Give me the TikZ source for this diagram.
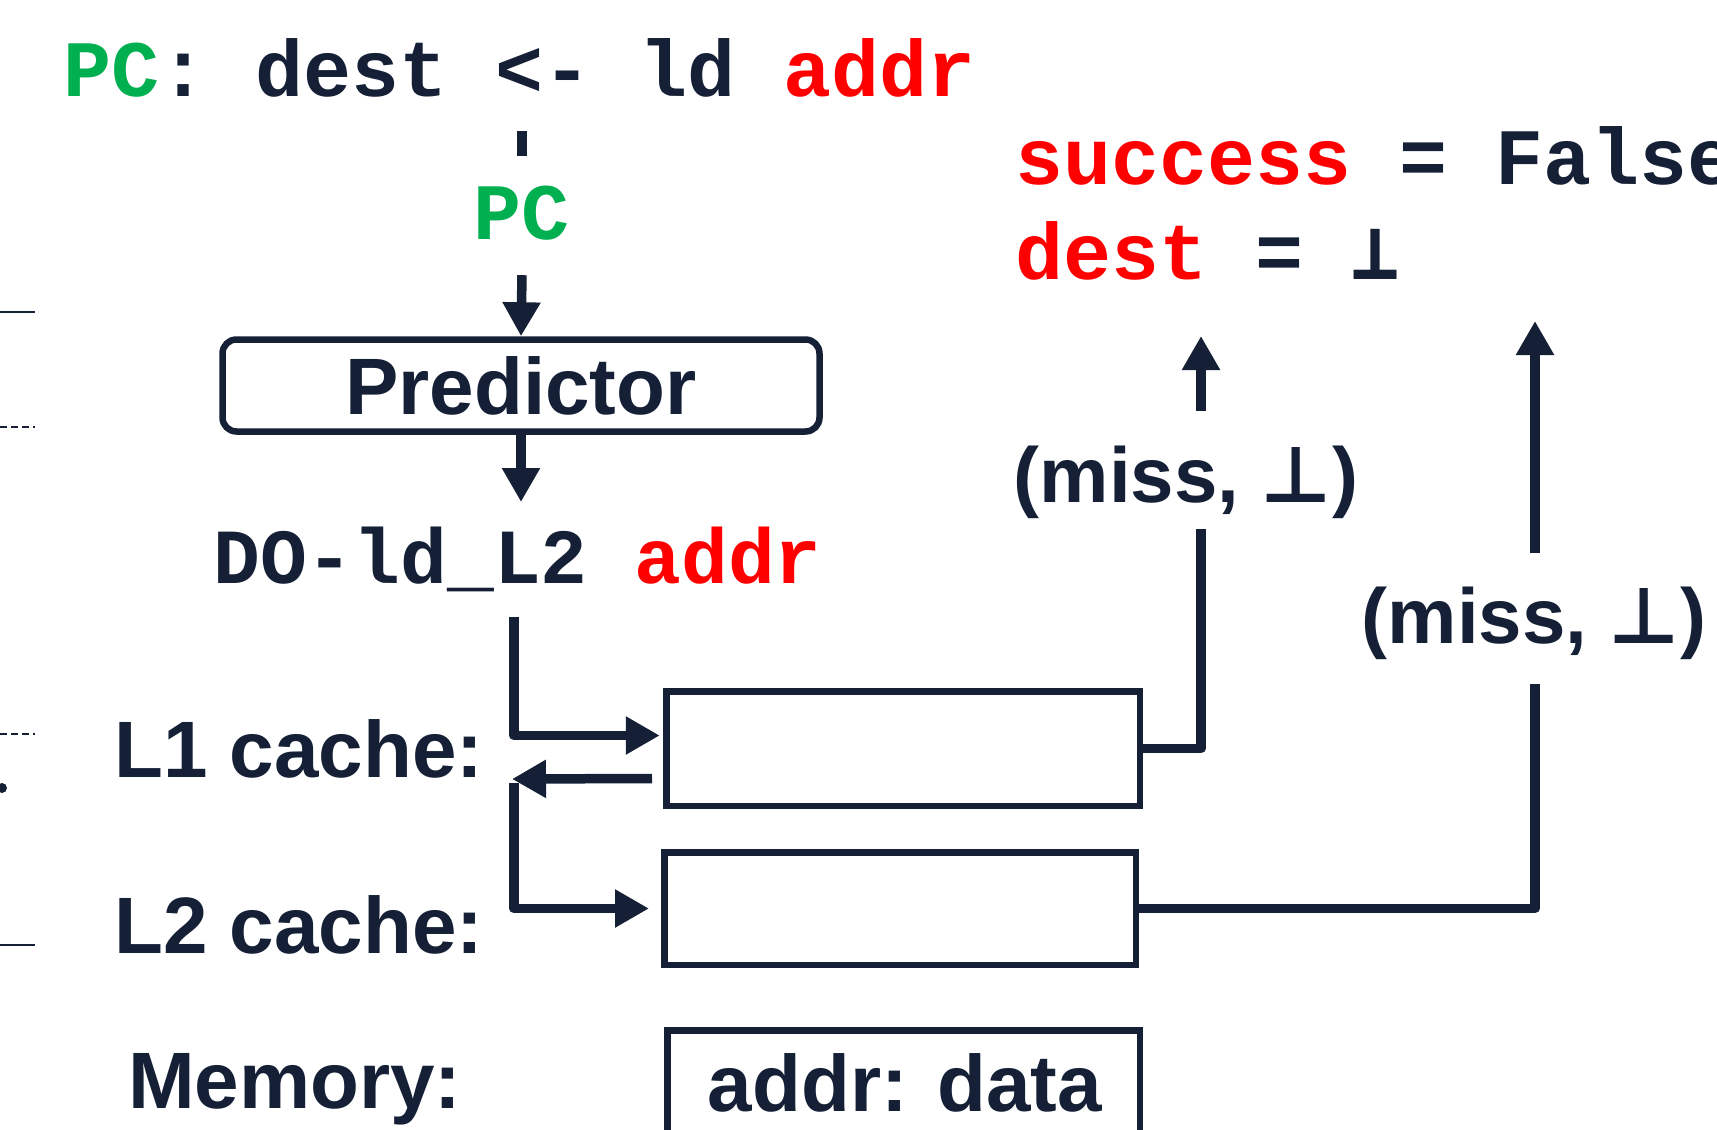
\documentclass[tikz,border=0pt]{standalone}
\usepackage{fontspec}
\setmainfont{Liberation Sans}
\newfontfamily\monof{Liberation Mono}
\newfontfamily\djv{DejaVu Sans}
\newfontfamily\djvm{DejaVu Sans Mono}
\usetikzlibrary{arrows.meta}
\definecolor{ink}{HTML}{152036}
\definecolor{pcgreen}{HTML}{00B050}
\definecolor{addrred}{HTML}{FF0000}
\tikzset{
  mono/.style={font=\monof\bfseries\fontsize{80}{96}\selectfont, inner sep=0pt, text=ink},
  sans/.style={font=\bfseries\fontsize{80}{96}\selectfont, inner sep=0pt, text=ink},
  misslab/.style={font=\bfseries\fontsize{78}{94}\selectfont, inner sep=0pt, text=ink},
  arr/.style={draw=ink, line width=9.5pt, -{Triangle[length=34pt,width=36pt]}, line join=round},
  wire/.style={draw=ink, line width=9.5pt, line join=round},
  cachebox/.style={draw=ink, line width=6.5pt, rectangle, inner sep=0pt},
  frag/.style={draw=ink, line width=2.5pt},
}
\begin{document}
\begin{tikzpicture}[x=1pt,y=-1pt]
\useasboundingbox (0,0) rectangle (1717,1130);
\fill[white] (0,0) rectangle (1717,1130);
\clip (0,0) rectangle (1717,1130);

% instruction line
\node[mono, anchor=base west] (line1) at (63,96) {\textcolor{pcgreen}{PC}: dest <- ld \textcolor{addrred}{addr}};
\coordinate (pctop) at (522,131);
\node[mono, text=pcgreen, anchor=base, inner xsep=0pt, inner ysep=36pt, text height=47pt, text depth=0pt] (pc) at (522,239) {PC};
\draw[wire] (pctop) -- (pc.north);

% predictor
\node[draw=ink, line width=6.5pt, rounded corners=14pt, minimum width=597pt, minimum height=92pt, sans] (pred) at (521,385.5) {Predictor};
\draw[arr] (pc.south) -- (pred.north);
\coordinate (predout) at (521,502);
\draw[arr] (pred.south) -- (predout);

\node[mono, font=\monof\bfseries\fontsize{78}{94}\selectfont, anchor=base west] (do) at (213,583) {DO-ld\_L2 \textcolor{addrred}{addr}};

% caches
\node[cachebox, minimum width=473.5pt, minimum height=114.5pt] (L1) at (903,748.5) {};
\node[cachebox, minimum width=471.5pt, minimum height=112.5pt] (L2) at (900,908.5) {};
\node[cachebox, minimum width=472.5pt, minimum height=160pt, anchor=north] (mem) at (903.5,1027.25) {};
\node[sans, anchor=base] (memtxt) at (905,1111) {addr: data};

\node[sans, anchor=base west] (l1lab) at (114,777) {L1 cache:};
\node[sans, anchor=base west] (l2lab) at (114,953) {L2 cache:};
\node[sans, anchor=base west] (memlab) at (128,1108) {Memory:};

% request into L1
\coordinate (s1) at (514,617);
\draw[arr] (s1) |- ([xshift=-3.25pt,yshift=13pt]L1.west);
% L1 miss back, then to L2
\coordinate (ret) at (512,779);
\draw[arr] ([xshift=-11pt,yshift=-30pt]L1.west) -- (ret);
\coordinate (down) at (514,783);
\draw[arr] (down) |- ([xshift=-12pt]L2.west);

% L1 result
\coordinate (m1bot) at (1201,529);
\draw[wire] (L1.east) -| (m1bot);
\node[misslab, anchor=base] (miss1) at (1186,502) {(miss, {\djv ⊥})};
\coordinate (m1top) at (1201,411);
\coordinate (t1) at (1201,336);
\draw[arr] (m1top) -- (t1);

% L2 result
\coordinate (m2bot) at (1535,684);
\draw[wire] (L2.east) -| (m2bot);
\node[misslab, anchor=base] (miss2) at (1534,643) {(miss, {\djv ⊥})};
\coordinate (m2top) at (1535,553);
\coordinate (t2) at (1535,321);
\draw[arr] (m2top) -- (t2);

% outcome
\node[mono, anchor=base west] (succ) at (1015,184) {\textcolor{addrred}{success} = False};
\node[mono, anchor=base west] (destv) at (1015,279) {\textcolor{addrred}{dest} = {\djvm\bfseries ⊥}};

% cropped fragments at left edge
\draw[frag] (0,312) -- (35,312);
\draw[frag, dash pattern=on 7pt off 4pt] (0,427) -- (35,427);
\draw[frag, dash pattern=on 7pt off 4pt] (0,734) -- (35,734);
\fill[ink] (2,788) circle (5pt);
\draw[frag] (0,945) -- (35,945);
\end{tikzpicture}
\end{document}
